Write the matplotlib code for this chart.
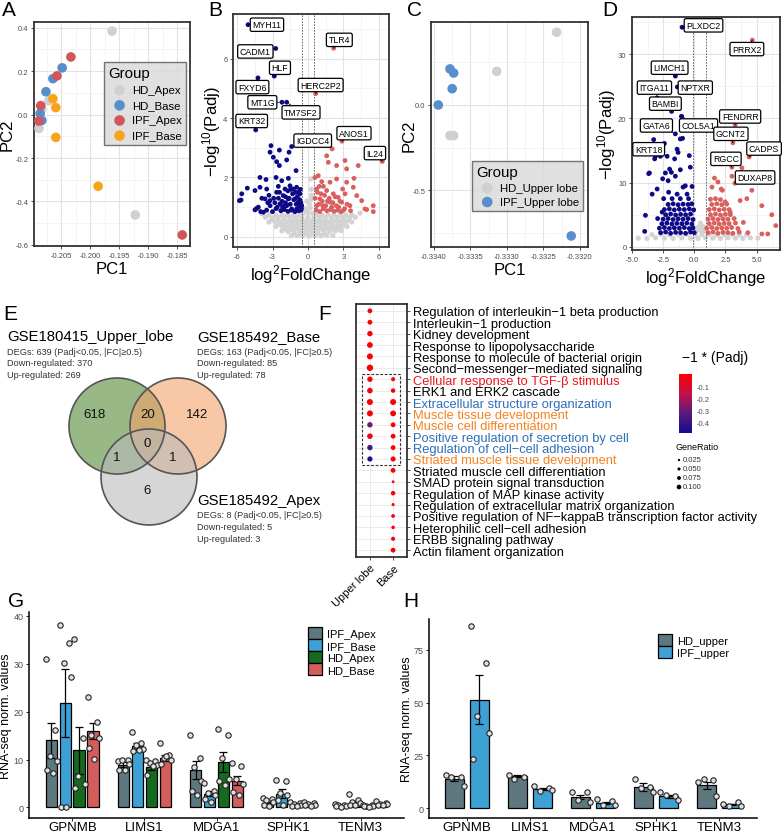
import numpy as np
import matplotlib
matplotlib.use('Agg')
import matplotlib.pyplot as plt
from matplotlib.patches import Circle, Rectangle, Patch
from matplotlib.colors import LinearSegmentedColormap, Normalize
from matplotlib.cm import ScalarMappable
from matplotlib.ticker import AutoMinorLocator, FormatStrFormatter

plt.rcParams['font.family'] = ['Liberation Sans', 'DejaVu Sans']
plt.rcParams['mathtext.fontset'] = 'custom'
plt.rcParams['mathtext.rm'] = 'Liberation Sans'
plt.rcParams['mathtext.it'] = 'Liberation Sans:italic'
plt.rcParams['axes.unicode_minus'] = False

# ================= DATA =================
# A: PCA GSE185492 (PC1, PC2)
a_hd_apex = [(-0.1962, 0.384), (-0.2071, 0.064), (-0.2083, 0.027), (-0.2088, -0.064), (-0.1922, -0.462)]
a_hd_base = [(-0.2048, 0.215), (-0.2064, 0.165), (-0.2076, 0.105), (-0.2086, 0.005), (-0.2083, -0.027)]
a_ipf_apex = [(-0.2033, 0.265), (-0.2057, 0.178), (-0.2085, 0.041), (-0.2088, -0.030), (-0.1841, -0.554)]
a_ipf_base = [(-0.2064, 0.073), (-0.2059, 0.032), (-0.2059, -0.105), (-0.1986, -0.330)]

# C: PCA GSE180415
c_hd_upper = [(-0.33232, 0.428), (-0.33314, 0.198), (-0.33378, -0.18), (-0.33373, -0.18)]
c_ipf_upper = [(-0.33378, 0.212), (-0.33373, 0.188), (-0.33375, 0.096), (-0.33394, 0.0), (-0.33212, -0.77)]

# B: volcano GSE185492 Base (log2FC, -log10 Padj)
b_down = [(-3.13, 3.07), (-2.42, 2.92), (-1.38, 3.04), (-1.6, 2.85), (-3.21, 2.85), (-2.93, 2.68),
          (-2.65, 2.53), (-2.42, 2.4), (-1.8, 2.59), (-1.01, 2.23), (-4.06, 2.0), (-3.55, 1.93),
          (-2.7, 2.0), (-2.22, 1.89), (-1.66, 1.97), (-5.13, 1.64), (-5.6, 1.45), (-5.66, 1.24),
          (-4.48, 1.56), (-4.06, 1.67), (-3.49, 1.61), (-2.51, 1.7), (-2.65, 1.5), (-1.94, 1.61),
          (-1.52, 1.72), (-1.24, 1.61), (-0.96, 1.67), (-0.68, 1.45), (-4.2, 1.0), (-4.48, 0.91),
          (-3.63, 1.28), (-3.21, 1.22), (-2.09, 1.39), (-1.66, 1.28), (-1.1, 1.28), (-0.82, 1.17),
          (-2.37, 1.11), (-1.8, 1.05), (-1.38, 0.94), (-0.96, 0.94), (-0.53, 1.05), (-5.8, 1.22),
          (-4.34, 0.96), (-3.77, 0.83), (-3.5, 0.9), (-3.0, 0.85), (-2.7, 0.95), (-2.3, 0.88),
          (-2.0, 0.92), (-1.7, 0.86), (-1.4, 0.9), (-1.1, 0.85), (-0.8, 0.88), (-0.6, 0.9),
          (-3.2, 1.05), (-2.8, 1.15), (-2.5, 1.3), (-2.2, 1.2), (-1.9, 1.15), (-1.5, 1.1),
          (-1.2, 1.25), (-0.9, 1.35), (-0.7, 1.25), (-2.6, 1.0), (-2.0, 1.05), (-1.6, 1.3),
          (-1.3, 1.45), (-1.0, 1.1), (-0.6, 1.15), (-1.9, 1.35), (-2.4, 1.5), (-1.7, 1.55),
          (-0.8, 1.5), (-3.9, 1.3), (-0.55, 0.95), (-3.3, 1.4), (-2.9, 1.3), (-1.45, 1.6),
          (-1.05, 1.5), (-0.75, 1.05), (-2.15, 1.0), (-3.4, 1.15), (-4.0, 0.85), (-0.65, 1.6)]
b_up = [(1.58, 2.73), (1.72, 2.51), (2.42, 2.4), (3.13, 2.57), (3.27, 2.29), (4.25, 2.4), (0.59, 2.0),
        (0.87, 2.06), (1.16, 1.86), (1.3, 1.7), (1.86, 1.84), (2.42, 1.95), (2.93, 1.61), (3.27, 1.84),
        (3.89, 1.97), (0.73, 1.61), (1.58, 1.56), (2.14, 1.45), (2.56, 1.33), (3.13, 1.45), (3.83, 1.67),
        (4.12, 1.39), (4.54, 1.22), (4.82, 0.94), (5.52, 1.05), (3.55, 1.05), (2.85, 1.17), (1.01, 1.28),
        (0.73, 1.05), (1.86, 1.17), (4.96, 0.92), (5.52, 0.85), (0.7, 0.9), (1.0, 0.85), (1.3, 0.95),
        (1.6, 0.88), (1.9, 0.92), (2.2, 0.86), (2.5, 0.9), (2.8, 0.85), (3.1, 0.95), (0.9, 1.1),
        (1.2, 1.2), (1.5, 1.05), (1.8, 1.3), (2.1, 1.15), (2.4, 1.05), (2.7, 1.2), (3.3, 1.1),
        (0.6, 1.3), (1.4, 1.4), (2.3, 1.35), (0.8, 1.5), (3.0, 0.9), (3.6, 0.88), (1.1, 1.45),
        (1.65, 1.2), (2.0, 1.0), (2.6, 1.0), (0.95, 1.7), (1.25, 1.05)]
b_ns = [(-1.4, 0.05), (-0.9, 0.04), (-0.4, 0.06), (0.1, 0.03), (0.6, 0.05), (1.1, 0.04), (1.6, 0.06),
        (2.1, 0.05), (-2.2, 0.2), (-1.7, 0.18), (-1.2, 0.22), (-0.7, 0.19), (-0.2, 0.21), (0.3, 0.18),
        (0.8, 0.2), (1.3, 0.22), (1.8, 0.19), (2.3, 0.2), (2.8, 0.21), (-2.7, 0.35), (-2.2, 0.36),
        (-1.7, 0.33), (-1.2, 0.37), (-0.7, 0.34), (-0.2, 0.36), (0.3, 0.35), (0.8, 0.33), (1.3, 0.36),
        (1.8, 0.35), (2.3, 0.34), (2.8, 0.36), (3.3, 0.35), (-3.3, 0.5), (-2.8, 0.52), (-2.3, 0.49),
        (-1.8, 0.51), (-1.3, 0.5), (-0.8, 0.52), (-0.3, 0.49), (0.2, 0.5), (0.7, 0.51), (1.2, 0.5),
        (1.7, 0.49), (2.2, 0.52), (2.7, 0.5), (3.2, 0.51), (3.7, 0.5), (-3.6, 0.66), (-3.0, 0.64),
        (-2.5, 0.65), (-2.0, 0.67), (-1.5, 0.64), (-1.0, 0.66), (-0.5, 0.65), (0.0, 0.67), (0.5, 0.64),
        (1.0, 0.66), (1.5, 0.65), (2.0, 0.64), (2.5, 0.66), (3.0, 0.65), (3.5, 0.64), (4.0, 0.66),
        (-0.4, 0.8), (0.0, 0.82), (0.4, 0.79), (-3.9, 0.78), (4.4, 0.8), (-0.2, 0.95), (0.2, 0.97),
        (0.1, 1.1), (0.25, 1.25), (0.3, 1.4), (0.28, 1.6), (0.25, 1.95), (-0.1, 1.2),
        (-1.15, 0.12), (-0.65, 0.1), (-0.15, 0.12), (0.35, 0.1), (0.85, 0.12), (1.35, 0.1),
        (-1.95, 0.28), (-1.45, 0.27), (-0.95, 0.28), (-0.45, 0.27), (0.05, 0.28), (0.55, 0.27),
        (1.05, 0.28), (1.55, 0.27), (2.05, 0.28), (2.55, 0.27), (-2.45, 0.43), (-1.95, 0.42),
        (-1.45, 0.43), (-0.95, 0.42), (-0.45, 0.43), (0.05, 0.42), (0.55, 0.43), (1.05, 0.42),
        (1.55, 0.43), (2.05, 0.42), (2.55, 0.43), (3.05, 0.42), (-3.05, 0.58), (-2.55, 0.57),
        (-2.05, 0.58), (-1.55, 0.57), (-1.05, 0.58), (-0.55, 0.57), (-0.05, 0.58), (0.45, 0.57),
        (0.95, 0.58), (1.45, 0.57), (1.95, 0.58), (2.45, 0.57), (2.95, 0.58), (3.45, 0.57),
        (-3.3, 0.74), (-2.7, 0.73), (-2.2, 0.74), (-1.7, 0.73), (-1.2, 0.74), (-0.7, 0.73),
        (0.7, 0.74), (1.2, 0.73), (1.7, 0.74), (2.2, 0.73), (2.7, 0.74), (3.2, 0.73), (3.7, 0.74)]
b_genes = ['MYH11', 'CADM1', 'HLF', 'FXYD6', 'MT1G', 'TM7SF2', 'KRT32', 'TLR4', 'HERC2P2', 'ANOS1', 'IGDCC4', 'IL24']
b_gene_fc = [-5.07, -2.73, -2.85, -4.23, -2.2, -1.8, -4.42, 2.17, 0.65, 2.87, 2.05, 6.28]
b_gene_p = [7.14, 6.34, 5.41, 5.35, 4.53, 4.53, 3.6, 6.35, 4.82, 3.22, 2.96, 2.54]

# D: volcano GSE180415 Upper lobe
d_down = [(-2.4, 16.1), (-1.12, 16.8), (-0.94, 16.9), (-1.38, 15.2), (-1.3, 14.7), (-3.12, 14.1),
          (-2.72, 14.1), (-2.18, 14.1), (-1.58, 13.7), (-0.4, 14.2), (-1.98, 12.1), (-1.84, 11.6),
          (-2.32, 11.5), (-3.6, 11.5), (-1.12, 12.0), (-0.32, 12.4), (-2.54, 10.6), (-2.1, 10.3),
          (-1.52, 11.0), (-0.72, 9.5), (-0.9, 9.3), (-2.98, 9.0), (-3.38, 8.2), (-2.06, 8.5),
          (-1.38, 8.2), (-0.58, 8.2), (-0.18, 9.4), (-2.46, 7.5), (-1.78, 7.5), (-1.12, 7.5),
          (-0.46, 7.5), (-3.92, 4.9), (-3.98, 2.4), (-3.66, 11.4), (-3.18, 13.7), (-2.58, 5.4),
          (-2.94, 4.4), (-1.02, 20.3),
          (-2.7, 2.2), (-2.3, 2.3), (-1.9, 2.1), (-1.5, 2.25), (-1.1, 2.2), (-0.7, 2.1), (-0.3, 2.3), (0.0, 2.2),
          (-2.8, 2.9), (-2.4, 3.0), (-2.0, 2.85), (-1.6, 2.95), (-1.2, 2.9), (-0.8, 3.0), (-0.4, 2.85), (-0.1, 2.95),
          (-2.6, 3.6), (-2.2, 3.7), (-1.8, 3.55), (-1.4, 3.65), (-1.0, 3.6), (-0.6, 3.7), (-0.2, 3.55),
          (-2.5, 4.3), (-2.1, 4.4), (-1.7, 4.25), (-1.3, 4.35), (-0.9, 4.3), (-0.5, 4.4), (-0.1, 4.25),
          (-2.3, 5.0), (-1.9, 5.1), (-1.5, 4.95), (-1.1, 5.05), (-0.7, 5.0), (-0.3, 5.1),
          (-2.4, 5.8), (-2.0, 5.9), (-1.6, 5.75), (-1.2, 5.85), (-0.8, 5.8), (-0.4, 5.9), (-0.05, 5.75),
          (-2.1, 6.6), (-1.7, 6.7), (-1.3, 6.55), (-0.9, 6.65), (-0.5, 6.6), (-0.2, 6.7)]
d_up = [(3.82, 12.3), (3.02, 11.0), (1.62, 10.7), (1.9, 10.1), (2.16, 9.0), (2.26, 8.8), (1.42, 9.3),
        (4.62, 8.8), (4.22, 7.5), (3.68, 7.2), (5.42, 6.4), (2.48, 7.0), (6.22, 5.0), (6.54, 3.3),
        (5.9, 2.0), (5.42, 2.0), (2.88, 5.4), (3.94, 3.8),
        (1.1, 2.2), (1.5, 2.3), (1.9, 2.1), (2.3, 2.25), (2.7, 2.2), (3.1, 2.1), (3.6, 2.3), (4.3, 2.2),
        (1.0, 2.9), (1.4, 3.0), (1.8, 2.85), (2.2, 2.95), (2.6, 2.9), (3.0, 3.0), (3.5, 2.85),
        (1.2, 3.6), (1.6, 3.7), (2.0, 3.55), (2.4, 3.65), (2.8, 3.6), (3.3, 3.7),
        (1.1, 4.3), (1.5, 4.4), (1.9, 4.25), (2.3, 4.35), (2.7, 4.3), (3.2, 4.4),
        (1.3, 5.0), (1.7, 5.1), (2.1, 4.95), (2.5, 5.05), (2.9, 5.0),
        (1.2, 5.8), (1.6, 5.9), (2.0, 5.75), (2.4, 5.85), (2.8, 5.8),
        (1.4, 6.6), (1.8, 6.7), (2.2, 6.55), (2.6, 6.65), (1.3, 7.4), (1.7, 7.5), (2.1, 7.35)]
d_ns = [(-4.5, 1.35), (-3.8, 1.3), (-3.1, 1.4), (-2.4, 1.35), (-1.7, 1.3), (-1.0, 1.4), (-0.3, 1.35),
        (0.3, 1.3), (0.9, 1.4), (1.5, 1.35), (2.1, 1.3), (2.7, 1.4), (3.3, 1.35), (3.9, 1.3), (4.5, 1.4),
        (5.1, 1.35), (-3.4, 1.9), (-2.7, 1.95), (-2.0, 1.85), (-1.3, 1.9), (-0.6, 1.95), (0.1, 1.85),
        (0.6, 1.9), (1.2, 1.95), (1.8, 1.85), (2.4, 1.9), (3.0, 1.95), (3.6, 1.85), (4.2, 1.9),
        (0.2, 2.5), (0.5, 2.6), (0.8, 2.45), (0.35, 3.1), (0.7, 3.15), (0.5, 3.7)]
d_genes = ['PLXDC2', 'PRRX2', 'LIMCH1', 'ITGA11', 'NPTXR', 'BAMBI', 'GATA6', 'COL5A1',
           'FENDRR', 'GCNT2', 'KRT18', 'CADPS', 'RGCC', 'DUXAP8']
d_gene_fc = [-0.98, 4.66, -1.52, -2.98, -1.36, -1.82, -1.52, -1.02, 3.28, 3.1, -3.26, 4.4, 3.02, 3.26]
d_gene_p = [34.2, 32.2, 26.6, 23.2, 24.9, 21.1, 17.6, 20.3, 19.0, 16.2, 16.7, 14.0, 12.4, 9.9]

# E: Venn counts
venn_sets = ['GSE180415_Upper_lobe', 'GSE185492_Base', 'GSE185492_Apex']
venn_degs = [639, 163, 8]
venn_down = [370, 85, 5]
venn_up = [269, 78, 3]
venn_only = [618, 142, 6]          # upper, base, apex
venn_upper_base, venn_upper_apex, venn_base_apex, venn_all = 20, 1, 1, 0

# F: GO enrichment dot plot
go_terms = ['Regulation of interleukin\u22121 beta production', 'Interleukin\u22121 production',
            'Kidney development', 'Response to lipopolysaccharide',
            'Response to molecule of bacterial origin', 'Second\u2212messenger\u2212mediated signaling',
            'Cellular response to TGF-\u03b2 stimulus', 'ERK1 and ERK2 cascade',
            'Extracellular structure organization', 'Muscle tissue development',
            'Muscle cell differentiation', 'Positive regulation of secretion by cell',
            'Regulation of cell\u2212cell adhesion', 'Striated muscle tissue development',
            'Striated muscle cell differentiation', 'SMAD protein signal transduction',
            'Regulation of MAP kinase activity', 'Regulation of extracellular matrix organization',
            'Positive regulation of NF\u2212kappaB transcription factor activity',
            'Heterophilic cell\u2212cell adhesion', 'ERBB signaling pathway', 'Actin filament organization']
go_columns = ['Upper lobe', 'Base']
nan = np.nan
upper_ratio = [0.07, 0.07, 0.085, 0.095, 0.10, 0.11, 0.085, 0.09, 0.10, 0.10, 0.085, 0.09, 0.085, 0.08,
               nan, nan, nan, nan, nan, nan, nan, nan]
upper_padj = [-0.01, -0.01, -0.008, -0.006, -0.005, -0.004, -0.02, -0.03, -0.01, -0.02, -0.30, -0.05, -0.38, -0.46,
              nan, nan, nan, nan, nan, nan, nan, nan]
base_ratio = [nan, nan, nan, nan, nan, nan, 0.053, 0.062, 0.10, 0.095, 0.07, 0.07, 0.07, 0.078,
              0.07, 0.02, 0.062, 0.028, 0.045, 0.038, 0.053, 0.07]
base_padj = [nan, nan, nan, nan, nan, nan, -0.01, -0.01, -0.005, -0.005, -0.01, -0.01, -0.01, -0.01,
             -0.01, -0.02, -0.01, -0.02, -0.02, -0.02, -0.01, -0.01]
go_red = ['Cellular response to TGF-\u03b2 stimulus']
go_blue = ['Extracellular structure organization', 'Positive regulation of secretion by cell',
           'Regulation of cell\u2212cell adhesion']
go_orange = ['Muscle tissue development', 'Muscle cell differentiation', 'Striated muscle tissue development']
box_first, box_last = 'Cellular response to TGF-\u03b2 stimulus', 'Striated muscle tissue development'

# G: GSE185492 bar chart
genes = ['GPNMB', 'LIMS1', 'MDGA1', 'SPHK1', 'TENM3']
g_groups = ['IPF_Apex', 'IPF_Base', 'HD_Apex', 'HD_Base']
g_ipf_apex_mean = [14.0, 8.9, 7.8, 0.9, 0.4]
g_ipf_base_mean = [21.8, 12.8, 2.9, 2.9, 1.0]
g_hd_apex_mean = [11.9, 8.4, 9.4, 0.7, 0.3]
g_hd_base_mean = [15.9, 10.4, 5.6, 0.6, 0.6]
g_ipf_apex_se = [3.6, 0.5, 1.9, 0.3, 0.1]
g_ipf_base_se = [7.1, 0.6, 0.5, 0.9, 0.35]
g_hd_apex_se = [4.9, 0.55, 2.1, 0.15, 0.08]
g_hd_base_se = [1.7, 0.65, 1.0, 0.1, 0.15]
g_ipf_apex_pts = [[30.9, 16.2, 10.8, 9.7, 7.8, 7.1], [9.7, 9.9, 9.9, 9.0, 7.8, 7.8],
                  [15.2, 10.3, 8.5, 5.6, 3.5, 2.6], [2.0, 1.8, 1.5, 1.1, 0.6, 0.4], [0.7, 0.6, 0.5, 0.4, 0.3, 0.2]]
g_ipf_base_pts = [[38.1, 34.3, 30.1, 27.2, 0.0, 0.0], [15.8, 13.5, 13.0, 12.2, 11.7, 11.9],
                  [5.1, 3.4, 3.1, 2.7, 1.7, 1.2], [5.8, 5.6, 3.1, 2.5, 1.5, 0.6], [2.8, 1.6, 1.2, 1.0, 0.6, 0.5]]
g_hd_apex_pts = [[35.2, 14.4, 6.6, 5.0, 4.1], [9.9, 9.6, 9.2, 8.8, 6.8, 8.6],
                 [16.3, 15.2, 10.4, 6.0, 5.5, 4.6], [1.2, 1.0, 0.8, 0.6, 0.4, 0.3], [0.6, 0.5, 0.4, 0.3, 0.3, 0.2]]
g_hd_base_pts = [[23.1, 17.9, 15.2, 14.5, 12.4, 10.2], [13.5, 10.9, 10.4, 9.9, 9.1, 10.7],
                 [9.2, 8.6, 6.0, 5.0, 3.2, 2.6], [1.1, 0.9, 0.7, 0.6, 0.5, 0.4], [1.3, 1.0, 0.8, 0.7, 0.6, 0.5]]

# H: GSE180415 bar chart
h_groups = ['HD_upper', 'IPF_upper']
h_hd_mean = [14.0, 15.1, 5.2, 10.1, 10.8]
h_ipf_mean = [51.3, 9.1, 2.5, 5.7, 1.7]
h_hd_se = [1.2, 0.6, 1.1, 1.9, 1.6]
h_ipf_se = [11.6, 0.5, 0.6, 0.7, 0.3]
h_hd_pts = [[15.9, 14.5, 14.5, 10.5], [15.9, 14.9, 13.7], [7.4, 7.4, 3.8, 3.1], [14.0, 10.0, 9.3, 7.4],
            [12.4, 13.4, 13.7, 5.8]]
h_ipf_pts = [[86.3, 68.7, 43.6, 35.7, 23.1], [10.5, 9.7, 8.2, 8.6], [4.2, 3.5, 1.4, 1.4],
             [7.4, 5.5, 6.1, 3.9], [1.9, 2.7, 0.8, 1.1]]

# ================= FIGURE =================
W, H = 784, 837
fig = plt.figure(figsize=(W / 100, H / 100), dpi=100)
fig.patch.set_facecolor('white')


def box(l, t, r, b):
    return [l / W, 1 - b / H, (r - l) / W, (b - t) / H]


def panel_label(x, y, s):
    fig.text(x / W, 1 - y / H, s, fontsize=15, ha='left', va='center')


def bw_style(ax):
    ax.set_axisbelow(True)
    ax.xaxis.set_minor_locator(AutoMinorLocator(2))
    ax.yaxis.set_minor_locator(AutoMinorLocator(2))
    ax.grid(True, which='major', color='#e3e3e3', lw=0.8)
    ax.grid(True, which='minor', color='#f0f0f0', lw=0.5)
    for s in ax.spines.values():
        s.set_color('#333333')
        s.set_linewidth(1.3)
    ax.tick_params(which='major', labelsize=5.5, labelcolor='#4d4d4d', length=2.5, width=0.6,
                   color='#333333', pad=1.5)
    ax.tick_params(which='minor', length=0)


GRAY, BLUE, RED, ORANGE = '#d0d0d0', '#5a8dcb', '#d2555b', '#f9a31b'

# ---- A
axa = fig.add_axes(box(34, 23, 190, 247))
bw_style(axa)
for pts, col, lab in [(a_hd_apex, GRAY, 'HD_Apex'), (a_hd_base, BLUE, 'HD_Base'),
                      (a_ipf_apex, RED, 'IPF_Apex'), (a_ipf_base, ORANGE, 'IPF_Base')]:
    x, y = zip(*pts)
    axa.scatter(x, y, s=48, color=col, edgecolors='none', label=lab, zorder=3)
axa.set_xlim(-0.20966, -0.18276)
axa.set_ylim(-0.605, 0.426)
axa.set_xticks([-0.205, -0.200, -0.195, -0.190, -0.185])
axa.set_yticks([-0.6, -0.4, -0.2, 0.0, 0.2, 0.4])
axa.xaxis.set_major_formatter(FormatStrFormatter('%.3f'))
axa.yaxis.set_major_formatter(FormatStrFormatter('%.1f'))
axa.set_xlabel('PC1', fontsize=12, labelpad=2)
axa.set_ylabel('PC2', fontsize=12)
axa.yaxis.set_label_coords(-0.125, 0.5)
lg = axa.legend(title='Group', loc='upper right', bbox_to_anchor=(0.974, 0.821), fontsize=8.2,
                title_fontsize=10.8, frameon=True, fancybox=False, facecolor='#d9d9d9',
                edgecolor='#555555', handletextpad=0.1, labelspacing=0.45, borderpad=0.35,
                borderaxespad=0, alignment='left', markerscale=1.1)
lg.get_frame().set_linewidth(1.0)
panel_label(2, 11, 'A')


# ---- volcano helper
def volcano(ax, down, up, ns, genes_, gfc, gp, label_pos, vlines, xlim, ylim, xticks, yticks, xfmt, ylab_x):
    bw_style(ax)
    x, y = zip(*ns)
    ax.scatter(x, y, s=14, color='#d3d3d3', edgecolors='none', zorder=2)
    x, y = zip(*down)
    ax.scatter(x, y, s=12, color='#0e0a87', edgecolors='none', zorder=3)
    x, y = zip(*up)
    ax.scatter(x, y, s=12, color='#d9605e', edgecolors='none', zorder=3)
    gfc = np.array(gfc)
    ax.scatter(gfc, gp, s=12, color=np.where(gfc < 0, '#0e0a87', '#d9605e'), edgecolors='none', zorder=3)
    for v in vlines:
        ax.axvline(v, color='#555555', lw=0.6, ls=(0, (2, 1.5)), zorder=2.5)
    for g, gx, gy, (lx, ly) in zip(genes_, gfc, gp, label_pos):
        ax.annotate(g, xy=(gx, gy), xytext=(lx, ly), fontsize=6.3, ha='center', va='center', zorder=6,
                    bbox=dict(boxstyle='round,pad=0.25,rounding_size=0.2', fc='white', ec='black', lw=0.9),
                    arrowprops=dict(arrowstyle='-', color='black', lw=0.6, shrinkA=0, shrinkB=2))
    ax.set_xlim(*xlim)
    ax.set_ylim(*ylim)
    ax.set_xticks(xticks)
    ax.set_yticks(yticks)
    ax.xaxis.set_major_formatter(FormatStrFormatter(xfmt))
    ax.set_xlabel(r'log$^{2}$FoldChange', fontsize=12, labelpad=2)
    ax.set_ylabel('\u2212log$^{10}$(Padj)', fontsize=12)
    ax.yaxis.set_label_coords(ylab_x, 0.5)


# ---- B
axb = fig.add_axes(box(233, 15, 389, 248))
b_label_pos = [(-3.47, 7.14), (-4.45, 6.24), (-2.37, 5.69), (-4.7, 5.04), (-3.86, 4.53), (-0.59, 4.19),
               (-4.76, 3.9), (2.65, 6.63), (1.07, 5.11), (3.89, 3.49), (0.4, 3.24), (5.66, 2.82)]
volcano(axb, b_down, b_up, b_ns, b_genes, b_gene_fc, b_gene_p, b_label_pos, [-0.5, 0.5],
        (-6.34, 6.85), (-0.34, 7.5), [-6, -3, 0, 3, 6], [0, 2, 4, 6], '%d', -0.065)
panel_label(208, 10, 'B')

# ---- C
axc = fig.add_axes(box(431, 23, 588, 248))
bw_style(axc)
for pts, col, lab in [(c_hd_upper, GRAY, 'HD_Upper lobe'), (c_ipf_upper, BLUE, 'IPF_Upper lobe')]:
    x, y = zip(*pts)
    axc.scatter(x, y, s=48, color=col, edgecolors='none', label=lab, zorder=3)
axc.set_xlim(-0.33404, -0.33189)
axc.set_ylim(-0.835, 0.488)
axc.set_xticks([-0.3340, -0.3335, -0.3330, -0.3325, -0.3320])
axc.set_yticks([-0.5, 0.0])
axc.xaxis.set_major_formatter(FormatStrFormatter('%.4f'))
axc.yaxis.set_major_formatter(FormatStrFormatter('%.1f'))
axc.set_xlabel('PC1', fontsize=12, labelpad=2)
axc.set_ylabel('PC2', fontsize=12)
axc.yaxis.set_label_coords(-0.09, 0.5)
lg = axc.legend(title='Group', loc='upper right', bbox_to_anchor=(0.968, 0.382), fontsize=8.2,
                title_fontsize=10.8, frameon=True, fancybox=False, facecolor='#d9d9d9',
                edgecolor='#555555', handletextpad=0.1, labelspacing=0.35, borderpad=0.35,
                borderaxespad=0, alignment='left', markerscale=1.1)
lg.get_frame().set_linewidth(1.0)
panel_label(407, 11, 'C')

# ---- D
axd = fig.add_axes(box(632, 18, 780, 251))
d_label_pos = [(0.74, 34.5), (4.22, 30.8), (-1.98, 27.9), (-3.2, 24.8), (0.08, 24.8), (-2.32, 22.3),
               (-3.04, 18.9), (0.34, 18.9), (3.68, 20.3), (2.94, 17.6), (-3.66, 15.2), (5.6, 15.3),
               (2.54, 13.7), (4.88, 10.8)]
volcano(axd, d_down, d_up, d_ns, d_genes, d_gene_fc, d_gene_p, d_label_pos, [-0.08, 0.96],
        (-5.0, 6.88), (-0.5, 35.8), [-5, -2.5, 0, 2.5, 5], [0, 10, 20, 30], '%.1f', -0.095)
panel_label(602, 11, 'D')

# ---- E: Venn
axe = fig.add_axes(box(0, 300, 340, 545))
axe.set_xlim(0, 340)
axe.set_ylim(545, 300)
axe.axis('off')
r = 48
centers = [(117, 427), (178, 427), (149, 478)]
fills = ['#538a35', '#f3a36b', '#bbbbbb']
for (cx, cy), fc in zip(centers, fills):
    axe.add_patch(Circle((cx, cy), r, fc=fc, alpha=0.6, ec='none'))
for cx, cy in centers:
    axe.add_patch(Circle((cx, cy), r, fill=False, ec='#555555', lw=1.2))
(gx, gy), (ox, oy), (hx, hy) = centers
txt = dict(fontsize=9.5, ha='center', va='center', color='#111111')
axe.text(gx - 22, gy - 12, str(venn_only[0]), **txt)
axe.text(ox + 19, oy - 12, str(venn_only[1]), **txt)
axe.text(hx - 2, hy + 13, str(venn_only[2]), **txt)
axe.text((gx + ox) / 2, gy - 12, str(venn_upper_base), **txt)
axe.text(gx, hy - 20, str(venn_upper_apex), **txt)
axe.text(ox - 5, hy - 20, str(venn_base_apex), **txt)
axe.text((gx + ox) / 2, gy + 17, str(venn_all), **txt)
for (tx, ty), name, n, dn, up in zip([(7, 337), (197, 337), (197, 501)], venn_sets, venn_degs, venn_down, venn_up):
    axe.text(tx, ty, name, fontsize=10.7, ha='left', va='center')
    axe.text(tx, ty + 15, f'DEGs: {n} (Padj<0.05, |FC|\u22650.5)', fontsize=6.6, color='#333333', ha='left', va='center')
    axe.text(tx, ty + 26.5, f'Down-regulated: {dn}', fontsize=6.6, color='#333333', ha='left', va='center')
    axe.text(tx, ty + 38, f'Up-regulated: {up}', fontsize=6.6, color='#333333', ha='left', va='center')
panel_label(3, 315, 'E')

# ---- F: dot plot
axf = fig.add_axes(box(356, 305, 407, 558))
cmap = LinearSegmentedColormap.from_list('padj', ['#120c8c', '#5a1a7c', '#c0124a', '#ff0000'])
norm = Normalize(vmin=-0.49, vmax=0.0)


def dot_size(ratio):
    d = 2.0 + 40 * np.asarray(ratio)
    return (d * 0.72) ** 2


rows = np.arange(len(go_terms))
for col, (ratios, padjs) in enumerate([(upper_ratio, upper_padj), (base_ratio, base_padj)]):
    rr = np.array(ratios, dtype=float)
    pp = np.array(padjs, dtype=float)
    m = ~np.isnan(rr)
    axf.scatter(np.full(m.sum(), col), rows[m], s=dot_size(rr[m]), c=pp[m], cmap=cmap, norm=norm,
                edgecolors='none', zorder=3)
i0, i1 = go_terms.index(box_first), go_terms.index(box_last)
axf.add_patch(Rectangle((-0.35, i0 - 0.5), 1.65, i1 - i0 + 1, fill=False, ec='#333333', lw=0.8,
                        ls=(0, (2.5, 1.5)), zorder=4))
axf.set_xlim(-0.6, 1.6)
axf.set_ylim(len(go_terms) - 0.4, -0.6)
axf.set_xticks([0, 1])
axf.set_xticklabels(go_columns, rotation=45, ha='right', rotation_mode='anchor', fontsize=8)
axf.set_yticks(rows)
axf.set_yticklabels(go_terms, fontsize=9.3)
axf.yaxis.tick_right()
axf.grid(True, color='#e8e8e8', lw=0.6)
axf.set_axisbelow(True)
for s in axf.spines.values():
    s.set_color('#333333')
    s.set_linewidth(1.3)
axf.tick_params(length=2.5, width=0.6, color='#333333', pad=1.5)
for t in axf.get_yticklabels():
    s = t.get_text()
    if s in go_red:
        t.set_color('#e8191d')
    elif s in go_blue:
        t.set_color('#2f6eba')
    elif s in go_orange:
        t.set_color('#f58220')
panel_label(318, 315, 'F')

fig.text(682 / W, 1 - 358 / H, '\u22121 * (Padj)', fontsize=10, va='center', ha='left')
cax = fig.add_axes(box(679, 375, 692, 434))
cb = fig.colorbar(ScalarMappable(norm=norm, cmap=cmap), cax=cax)
cb.outline.set_visible(False)
cb.set_ticks([-0.1, -0.2, -0.3, -0.4])
cb.ax.tick_params(labelsize=5.5, labelcolor='#4d4d4d', length=2, color='white', width=0.6, pad=1.5)
fig.text(676 / W, 1 - 448 / H, 'GeneRatio', fontsize=6.5, va='center', ha='left')
axl = fig.add_axes(box(672, 454, 740, 494))
axl.set_xlim(672, 740)
axl.set_ylim(494, 454)
axl.axis('off')
leg_ratios = [0.025, 0.050, 0.075, 0.100]
leg_y = 461 + 9 * np.arange(len(leg_ratios))
axl.scatter(np.full(len(leg_ratios), 679), leg_y, s=dot_size(leg_ratios) * 0.6, color='black', edgecolors='none')
for yy, rv in zip(leg_y, leg_ratios):
    axl.text(683, yy, f'{rv:.3f}', fontsize=5.5, color='#333333', va='center', ha='left')


# ---- bar helper
def bars(ax, means, ses, pts, colors, offsets, width, jit, ylab_x):
    xg = np.arange(len(genes))
    for m, se, p, c, off in zip(means, ses, pts, colors, offsets):
        ax.bar(xg + off, m, width=width, color=c, edgecolor='black', lw=0.9, zorder=2)
        ax.errorbar(xg + off, m, yerr=se, fmt='none', ecolor='black', elinewidth=0.9, capsize=3,
                    capthick=0.9, zorder=3)
        for gi, vals in enumerate(p):
            xs = gi + off + np.array(jit[:len(vals)]) * width
            ax.scatter(xs, vals, s=15, facecolor='#e0e0e0', edgecolor='#222222', lw=0.8, zorder=4)
    ax.set_xticks(xg)
    ax.set_xticklabels(genes, fontsize=9.5)
    ax.set_xlim(-0.6, len(genes) - 0.4)
    for s in ['top', 'right']:
        ax.spines[s].set_visible(False)
    for s in ['left', 'bottom']:
        ax.spines[s].set_linewidth(1.1)
    ax.tick_params(axis='y', labelsize=6.5, labelcolor='#4d4d4d', length=2.5, width=0.6, pad=1.5)
    ax.tick_params(axis='x', length=2, width=0.6, pad=0.5)
    ax.set_ylabel('RNA-seq norm. values', fontsize=9)
    ax.yaxis.set_label_coords(ylab_x, 0.5)


jitter = [-0.45, 0.35, -0.15, 0.5, -0.35, 0.1]

# ---- G
axg = fig.add_axes(box(29, 613, 404, 819))
g_colors = ['#5f7880', '#3fa0d3', '#156a20', '#d35c5c']
bars(axg, [g_ipf_apex_mean, g_ipf_base_mean, g_hd_apex_mean, g_hd_base_mean],
     [g_ipf_apex_se, g_ipf_base_se, g_hd_apex_se, g_hd_base_se],
     [g_ipf_apex_pts, g_ipf_base_pts, g_hd_apex_pts, g_hd_base_pts],
     g_colors, [-0.29, -0.097, 0.097, 0.29], 0.16, jitter, -0.045)
axg.set_ylim(-2.2, 40.8)
axg.set_yticks([0, 10, 20, 30, 40])
axg.legend(handles=[Patch(fc=c, ec='black', lw=0.9, label=l) for c, l in zip(g_colors, g_groups)],
           loc='upper left', bbox_to_anchor=(0.744, 0.928), frameon=False, fontsize=8, labelspacing=0,
           handlelength=1.3, handleheight=1.3, handletextpad=0.4, borderpad=0, borderaxespad=0)
panel_label(8, 602, 'G')

# ---- H
axh = fig.add_axes(box(429, 620, 757, 819))
h_colors = ['#5f7880', '#3fa0d3']
bars(axh, [h_hd_mean, h_ipf_mean], [h_hd_se, h_ipf_se], [h_hd_pts, h_ipf_pts],
     h_colors, [-0.2, 0.2], 0.3, jitter, -0.05)
axh.set_ylim(-4.7, 89.6)
axh.set_yticks([0, 25, 50, 75])
axh.legend(handles=[Patch(fc=c, ec='black', lw=0.9, label=l) for c, l in zip(h_colors, h_groups)],
           loc='upper left', bbox_to_anchor=(0.698, 0.925), frameon=False, fontsize=8, labelspacing=0,
           handlelength=1.3, handleheight=1.3, handletextpad=0.4, borderpad=0, borderaxespad=0)
panel_label(403, 602, 'H')

fig.savefig('out.png', dpi=100)
